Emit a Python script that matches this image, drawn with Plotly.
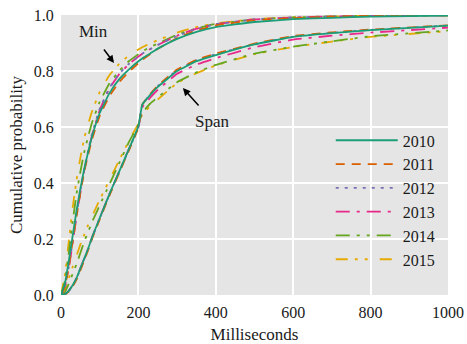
import plotly.graph_objects as go

# x grid (milliseconds)
ms = [0, 10, 20, 30, 40, 50, 60, 70, 80, 100, 125, 150, 175, 200, 210, 230, 250,
      300, 350, 400, 500, 600, 700, 800, 1000]

years = ["2010", "2011", "2012", "2013", "2014", "2015"]

# "Min" curves
min_2010 = [0, 0.04, 0.12, 0.21, 0.30, 0.38, 0.45, 0.51, 0.565, 0.65, 0.72, 0.77, 0.805, 0.835, 0.845, 0.862, 0.880, 0.915, 0.940, 0.957, 0.975, 0.985, 0.990, 0.994, 0.998]
min_2011 = [0, 0.03, 0.10, 0.19, 0.28, 0.365, 0.44, 0.50, 0.555, 0.64, 0.71, 0.76, 0.797, 0.828, 0.84, 0.86, 0.879, 0.918, 0.945, 0.963, 0.981, 0.989, 0.994, 0.997, 0.999]
min_2012 = [0, 0.03, 0.10, 0.19, 0.285, 0.37, 0.45, 0.515, 0.575, 0.665, 0.74, 0.79, 0.825, 0.852, 0.862, 0.878, 0.893, 0.925, 0.95, 0.967, 0.984, 0.991, 0.995, 0.997, 0.999]
min_2013 = [0, 0.03, 0.095, 0.185, 0.28, 0.365, 0.445, 0.51, 0.57, 0.66, 0.737, 0.788, 0.824, 0.852, 0.862, 0.878, 0.893, 0.926, 0.951, 0.967, 0.984, 0.991, 0.995, 0.997, 0.999]
min_2014 = [0, 0.05, 0.15, 0.26, 0.36, 0.44, 0.51, 0.565, 0.615, 0.69, 0.755, 0.80, 0.835, 0.86, 0.87, 0.885, 0.898, 0.93, 0.952, 0.968, 0.984, 0.991, 0.995, 0.997, 0.999]
min_2015 = [0, 0.07, 0.19, 0.31, 0.41, 0.49, 0.56, 0.61, 0.655, 0.725, 0.785, 0.825, 0.855, 0.877, 0.885, 0.898, 0.91, 0.937, 0.957, 0.97, 0.985, 0.992, 0.995, 0.997, 0.999]

# "Span" curves
span_2010 = [0, 0.003, 0.015, 0.035, 0.06, 0.095, 0.13, 0.165, 0.205, 0.275, 0.36, 0.44, 0.52, 0.603, 0.68, 0.714, 0.743, 0.80, 0.835, 0.857, 0.895, 0.922, 0.935, 0.946, 0.962]
span_2011 = [0, 0.002, 0.012, 0.03, 0.055, 0.088, 0.123, 0.16, 0.2, 0.27, 0.355, 0.435, 0.515, 0.598, 0.68, 0.717, 0.748, 0.805, 0.84, 0.862, 0.898, 0.925, 0.938, 0.948, 0.963]
span_2012 = [0, 0.003, 0.014, 0.033, 0.058, 0.092, 0.128, 0.163, 0.203, 0.273, 0.358, 0.438, 0.518, 0.601, 0.68, 0.716, 0.746, 0.803, 0.838, 0.86, 0.896, 0.923, 0.936, 0.947, 0.962]
span_2013 = [0, 0.003, 0.015, 0.035, 0.06, 0.095, 0.13, 0.165, 0.205, 0.275, 0.36, 0.44, 0.52, 0.598, 0.67, 0.704, 0.733, 0.79, 0.823, 0.846, 0.885, 0.912, 0.926, 0.937, 0.955]
span_2014 = [0, 0.01, 0.04, 0.075, 0.11, 0.15, 0.19, 0.225, 0.26, 0.32, 0.395, 0.47, 0.545, 0.608, 0.65, 0.683, 0.706, 0.76, 0.795, 0.822, 0.862, 0.887, 0.906, 0.924, 0.945]
span_2015 = [0, 0.02, 0.06, 0.10, 0.14, 0.18, 0.215, 0.25, 0.28, 0.34, 0.41, 0.48, 0.55, 0.612, 0.645, 0.673, 0.698, 0.757, 0.792, 0.82, 0.86, 0.886, 0.905, 0.922, 0.942]

x_ticks = [0, 200, 400, 600, 800, 1000]
y_ticks = [0.0, 0.2, 0.4, 0.6, 0.8, 1.0]

min_series = [min_2010, min_2011, min_2012, min_2013, min_2014, min_2015]
span_series = [span_2010, span_2011, span_2012, span_2013, span_2014, span_2015]

colors = ["#1b9e77", "#d95f02", "#7570b3", "#e7298a", "#66a61e", "#e6ab02"]
dashes = ["solid", "9px,7px", "3px,6px", "14px,7px,3px,7px",
          "14px,7px,3px,7px,3px,7px", "12px,7px,3px,7px,3px,12px"]

FONT = "Liberation Serif"
TXT = "#1a1a1a"
fig = go.Figure()

# draw later years first so 2010 sits on top; legend reversed to keep order
for i in reversed(range(len(years))):
    for j, series in enumerate((span_series[i], min_series[i])):
        fig.add_trace(go.Scatter(
            x=ms, y=series, mode="lines", name=years[i],
            legendgroup=years[i], showlegend=(j == 1),
            line=dict(color=colors[i], width=1.8, dash=dashes[i],
                      shape="spline", smoothing=0.3),
            hoverinfo="skip"))

axis_common = dict(showgrid=True, gridcolor="white", gridwidth=1.6,
                   zeroline=False, showline=False, automargin=False,
                   ticks="outside", ticklen=3, tickcolor="rgba(0,0,0,0)",
                   tickfont=dict(family=FONT, size=16, color=TXT))

fig.update_layout(
    width=467, height=344,
    margin=dict(l=61, r=19, t=15, b=49),
    paper_bgcolor="white", plot_bgcolor="#e5e5e5",
    font=dict(family=FONT, size=16, color=TXT),
    xaxis=dict(range=[0, 1000], tickvals=x_ticks, ticktext=[str(v) for v in x_ticks],
               title=dict(text="Milliseconds", font=dict(family=FONT, size=17, color=TXT), standoff=9),
               **axis_common),
    yaxis=dict(range=[0, 1], tickvals=y_ticks, ticktext=[f"{v:.1f}" for v in y_ticks],
               title=dict(text="Cumulative probability", font=dict(family=FONT, size=17, color=TXT), standoff=6),
               **axis_common),
    legend=dict(x=0.697, y=0.613, xanchor="left", yanchor="top",
                bgcolor="rgba(0,0,0,0)", traceorder="reversed",
                tracegroupgap=14, itemwidth=62,
                font=dict(family=FONT, size=16, color=TXT)),
    showlegend=True,
)

# annotations
fig.add_annotation(x=85, y=0.94, text="Min", showarrow=False,
                   font=dict(family=FONT, size=17, color=TXT))
fig.add_annotation(x=137, y=0.829, ax=108, ay=0.882, axref="x", ayref="y",
                   text="", showarrow=True, arrowhead=2, arrowsize=1,
                   arrowwidth=1.5, arrowcolor="black")
fig.add_annotation(x=392, y=0.618, text="Span", showarrow=False,
                   font=dict(family=FONT, size=17, color=TXT))
fig.add_annotation(x=315, y=0.739, ax=359, ay=0.671, axref="x", ayref="y",
                   text="", showarrow=True, arrowhead=2, arrowsize=1,
                   arrowwidth=1.5, arrowcolor="black")

fig.write_html("out.html", config={"displayModeBar": False},
               post_script="document.body.style.margin='0';document.body.style.overflow='hidden';")
